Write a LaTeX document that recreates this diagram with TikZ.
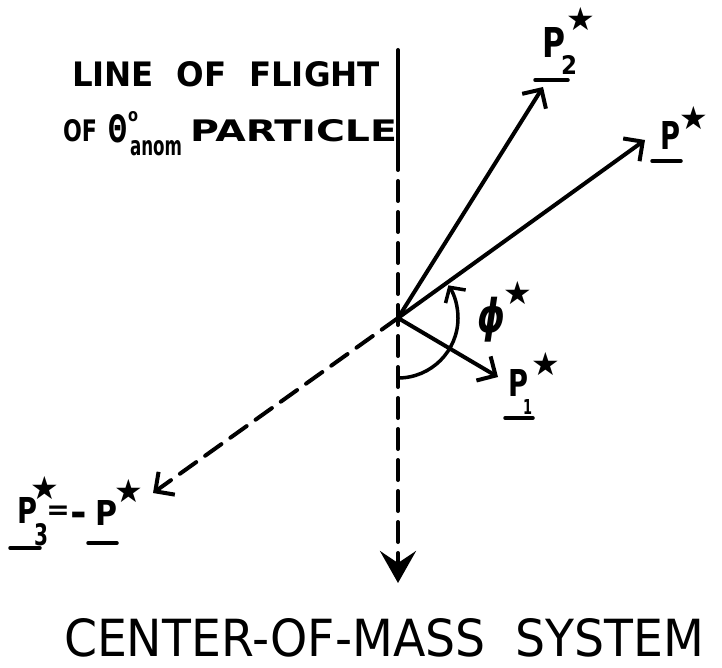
\documentclass[tikz,border=0pt]{standalone}
\usepackage{fontspec}
\setmainfont{DejaVu Sans}
\usetikzlibrary{arrows.meta}
\newcommand\mystar{{\fontsize{32pt}{32pt}\selectfont ★}}
\begin{document}
\begin{tikzpicture}[x=1pt,y=-1pt,line cap=round,line join=round,
  vec/.style={line width=4pt,-{Straight Barb[length=14pt,width=28pt,line width=4pt]}},
  dsh/.style={dash pattern=on 20pt off 11pt},
  ul/.style={line width=3.5pt},
  lbl/.style={inner sep=0pt,outer sep=0pt,anchor=base west,font=\bfseries},
  ctr/.style={inner sep=0pt,outer sep=0pt,anchor=center,font=\bfseries}]
\useasboundingbox (0,0) rectangle (722,668);
% key points
\coordinate (O) at (398,318);
\coordinate (top) at (398,50);
\coordinate (ms) at (398,150);
\coordinate (bot) at (398,583);
\coordinate (t2) at (543,87);
\coordinate (tp) at (645,140);
\coordinate (t1) at (498,377);
\coordinate (t3) at (153,493);
\coordinate (arcS) at (398,378);
% line of flight
\draw[line width=4pt] (top) -- (ms);
\draw[line width=4pt,dsh,-{Stealth[length=32pt,width=36pt,inset=12pt]}] (ms) -- (bot);
% vectors
\draw[vec] (O) -- (t2);
\draw[vec] (O) -- (tp);
\draw[vec] (O) -- (t1);
\draw[vec,dsh] (O) -- (t3);
% angle arc
\draw[line width=3.5pt,-{Straight Barb[length=11pt,width=24pt,line width=3.5pt]}]
  (arcS) arc[start angle=90,end angle=-33,radius=60];
% top text
\node[lbl] (t1a) at (72,87) {\resizebox{308pt}{25pt}{LINE\ \ OF\ \ FLIGHT}};
\node[lbl] (t2a) at (63,142) {\resizebox{34pt}{22pt}{OF}};
\node[lbl] (th) at (108,143) {\resizebox{19pt}{28pt}{Θ}};
\node[ctr] (deg) at (133,117) {\resizebox{10pt}{10pt}{o}};
\node[lbl] (anom) at (130,156) {\resizebox{52pt}{15pt}{anom}};
\node[lbl] (part) at (190,142) {\resizebox{207pt}{22pt}{PARTICLE}};
% P2*
\node[lbl] (p2) at (542,58) {\resizebox{23pt}{30pt}{P}};
\node[lbl] (p2s) at (561,75) {\resizebox{16pt}{19pt}{2}};
\node[ctr] (p2st) at (581,19) {\mystar};
\draw[ul] (535,80) -- (568,80);
% P*
\node[lbl] (pp) at (660,150) {\resizebox{20pt}{28pt}{P}};
\node[ctr] (ppst) at (694,118) {\mystar};
\draw[ul] (652,161) -- (681,161);
% P1*
\node[lbl] (p1) at (508,396) {\resizebox{20pt}{27pt}{P}};
\node[lbl] (p1s) at (523,414) {\resizebox{9pt}{15pt}{1}};
\node[ctr] (p1st) at (546,364) {\mystar};
\draw[ul] (505,418) -- (533,418);
% phi*
\node[ctr] (phi) at (491,320) {\resizebox*{28pt}{45pt}{\itshape ϕ}};
\node[ctr] (phist) at (518,293) {\mystar};
% P3* = -P*
\node[lbl] (p3) at (17,523) {\resizebox{20pt}{26pt}{P}};
\node[lbl] (p3s) at (34,545) {\resizebox{14pt}{22pt}{3}};
\node[ctr] (p3st) at (45,488) {\mystar};
\draw[ul] (10,548) -- (40,548);
\node[ctr] (eq) at (58,513) {\fontsize{28pt}{28pt}\selectfont =};
\node[lbl] (mn) at (70,526) {\fontsize{40pt}{40pt}\selectfont -};
\node[lbl] (mp) at (95,525) {\resizebox{22pt}{25pt}{P}};
\node[ctr] (mpst) at (129,491) {\mystar};
\draw[ul] (88,543) -- (117,543);
% bottom title
\node[lbl,font=\mdseries] (title) at (64,656) {\resizebox{640pt}{38pt}{CENTER-OF-MASS\ \ SYSTEM}};
\end{tikzpicture}
\end{document}
